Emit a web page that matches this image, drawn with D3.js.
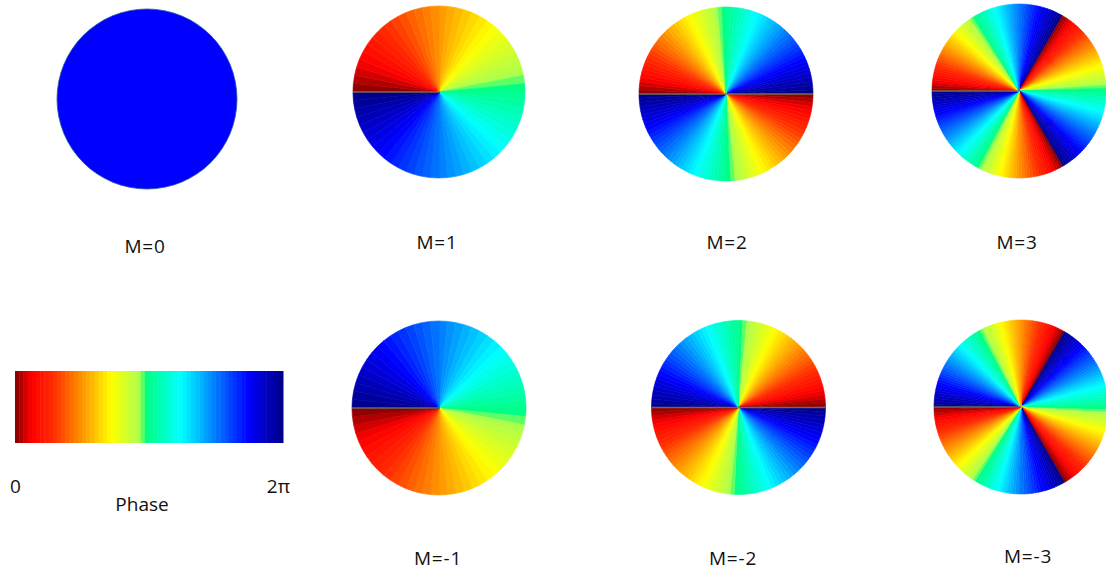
<!DOCTYPE html>
<html>
<head>
<meta charset="utf-8">
<script src="https://cdn.jsdelivr.net/npm/d3@7"></script>
<style>
  html, body { margin: 0; padding: 0; background: #ffffff; }
  svg { display: block; }
  text { font-family: "Open Sans", "Noto Sans", sans-serif; fill: #111; }
</style>
</head>
<body>
<svg id="chart" width="1106" height="570"></svg>
<script>
// ---- data ----
const modes = [0, 1, 2, 3, -1, -2, -3];
const modeLabels = ["M=0", "M=1", "M=2", "M=3", "M=-1", "M=-2", "M=-3"];
// phase colour map: fraction of 2π -> colour
const phaseStops = [0, 0.06, 0.14, 0.36, 0.47, 0.485, 0.62, 0.87, 1];
const phaseColors = ["#800000", "#ff0000", "#ff2a00", "#ffff00", "#a8ff50", "#00ff80", "#00ffff", "#0000ff", "#000088"];
const levels = 64;
const barTickLabels = ["0", "2π"];
const barTitle = "Phase";
const zeroModeColor = "#0000fe";

// ---- layout (positions only) ----
const layout = [
  {cx: 147, cy: 99, r: 90, lx: 145, ly: 253},
  {cx: 439, cy: 92, r: 86, lx: 437, ly: 249},
  {cx: 726, cy: 94, r: 87, lx: 727, ly: 249},
  {cx: 1019, cy: 91, r: 87, lx: 1017, ly: 249},
  {cx: 439, cy: 408, r: 87, lx: 438, ly: 565},
  {cx: 738.5, cy: 407.5, r: 87, lx: 733, ly: 565},
  {cx: 1021, cy: 407, r: 87, lx: 1028, ly: 563}
];
const bar = {x0: 15, x1: 283, y0: 371, y1: 443};

const svg = d3.select("#chart");

const color = d3.scaleLinear().domain(phaseStops).range(phaseColors)
  .interpolate(d3.interpolateRgb).clamp(true);
const quant = f => (Math.floor(f * levels) + 0.5) / levels;

// ---- circles ----
modes.forEach((m, i) => {
  const L = layout[i];
  const g = svg.append("g").attr("transform", `translate(${L.cx},${L.cy})`);
  if (m === 0) {
    g.append("circle").attr("r", L.r).attr("fill", zeroModeColor)
      .attr("stroke", "#2a5aa8").attr("stroke-width", 0.8);
  } else {
    const n = levels * Math.abs(m);
    const step = 2 * Math.PI / n;
    const wedges = d3.range(n).map(k => {
      const a0 = k * step, a1 = (k + 1) * step;
      const am = (a0 + a1) / 2;
      // d3 angle measured clockwise from top; phase 0 at the left horizontal
      let f = (m * (am - 1.5 * Math.PI)) / (2 * Math.PI);
      f = f - Math.floor(f);
      return {a0, a1, f};
    });
    const arc = d3.arc().innerRadius(0).outerRadius(L.r)
      .startAngle(d => d.a0).endAngle(d => d.a1);
    g.selectAll("path").data(wedges).join("path")
      .attr("d", arc)
      .attr("fill", d => color(quant(d.f)))
      .attr("stroke", d => color(quant(d.f)))
      .attr("stroke-width", 0.6)
      .attr("stroke-linejoin", "round");
    // seam line along the horizontal axis where the phase wraps
    const sides = Math.abs(m) % 2 === 0 ? [-1, 1] : [-1];
    sides.forEach(s => {
      g.append("line").attr("x1", 0).attr("y1", 0).attr("x2", s * L.r).attr("y2", 0)
        .attr("stroke", "#7a7a60").attr("stroke-width", 1.4).attr("stroke-opacity", 0.85);
    });
  }
  svg.append("text").attr("x", L.lx).attr("y", L.ly)
    .attr("text-anchor", "middle").attr("font-size", 19)
    .attr("letter-spacing", 0.8)
    .text(modeLabels[i]);
});

// ---- colour bar ----
const bx = d3.scaleBand().domain(d3.range(levels)).range([bar.x0, bar.x1]);
svg.append("g").selectAll("rect").data(d3.range(levels)).join("rect")
  .attr("x", d => bx(d)).attr("y", bar.y0)
  .attr("width", bx.bandwidth() + 0.5).attr("height", bar.y1 - bar.y0)
  .attr("fill", d => color((d + 0.5) / levels));

const bt = d3.scaleLinear().domain([0, 1]).range([bar.x0, bar.x1]);
svg.append("text").attr("x", bt(0) - 5).attr("y", 493).attr("font-size", 19)
  .attr("text-anchor", "start").text(barTickLabels[0]);
svg.append("text").attr("x", bt(1) + 7).attr("y", 493).attr("font-size", 19)
  .attr("text-anchor", "end").text(barTickLabels[1]);
svg.append("text").attr("x", 142).attr("y", 511).attr("font-size", 19)
  .attr("text-anchor", "middle").text(barTitle);
</script>
</body>
</html>
